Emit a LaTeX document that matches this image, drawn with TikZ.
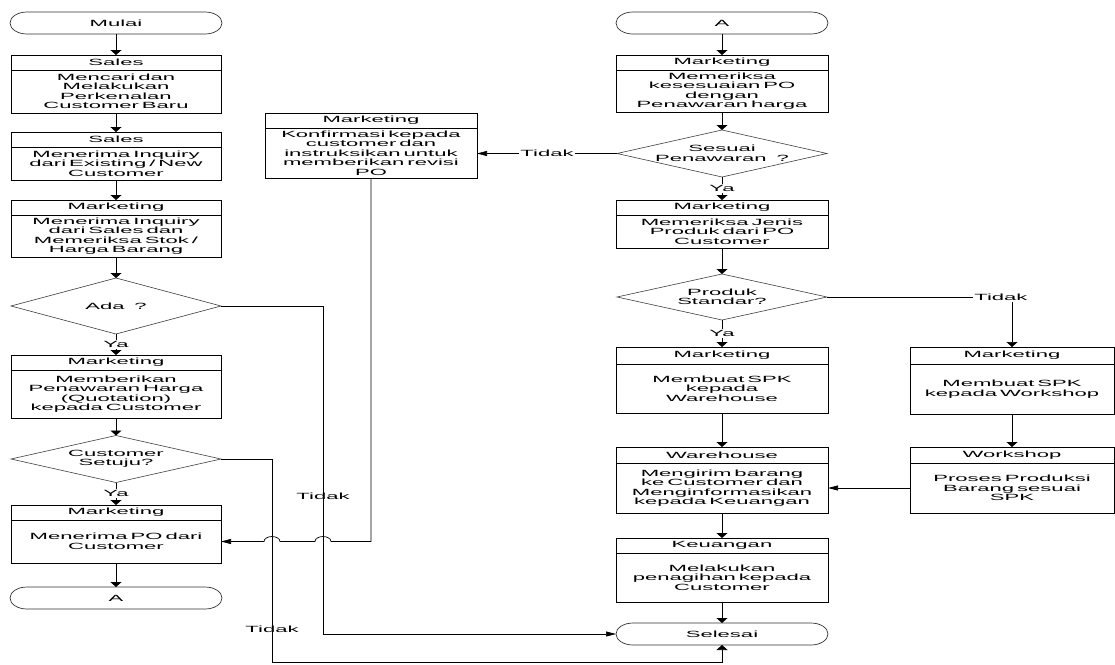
\documentclass[tikz,border=0pt]{standalone}
\usepackage{fontspec}
\setmainfont{Liberation Sans}[FakeStretch=2.45, WordSpace=1.6]
\usetikzlibrary{shapes.geometric, arrows.meta, positioning, calc}

\begin{document}
\begin{tikzpicture}[
    x=1pt, y=1pt,
    font=\fontsize{9}{9.5}\selectfont,
    node distance=0pt,
    hdr/.style={rectangle, draw, line width=0.8pt, minimum width=#1,
                minimum height=15pt, inner sep=0pt, outer sep=0pt},
    body/.style={rectangle, draw, line width=0.8pt, minimum width=#1,
                 text width=204pt, align=center, inner sep=0pt, outer sep=0pt},
    term/.style={rectangle, fill=white, minimum width=214pt, minimum height=24pt,
                 inner sep=0pt, outer sep=-1pt,
                 path picture={
                   \draw[line width=0.7pt, black!80]
                     ([xshift=18pt,yshift=-1pt]path picture bounding box.north west)
                     -- ([xshift=-18pt,yshift=-1pt]path picture bounding box.north east)
                     arc[start angle=90, end angle=-90, x radius=17pt, y radius=11pt]
                     -- ([xshift=18pt,yshift=1pt]path picture bounding box.south west)
                     arc[start angle=270, end angle=90, x radius=17pt, y radius=11pt]
                     -- cycle;}},
    decision/.style={diamond, draw=black!75, line width=0.6pt, minimum width=210pt,
                     minimum height=#1, inner sep=0pt, outer sep=0pt},
    dtext/.style={align=center, inner sep=0pt},
    arr/.style={-{Triangle[length=5pt,width=11pt]}, line width=0.9pt},
    harr/.style={-{Triangle[length=10pt,width=5pt]}, line width=0.7pt},
    lbl/.style={fill=white, inner sep=1.5pt}
]
\path[use as bounding box, fill=white] (0,0) rectangle (1115,-664);

% left column
\node[term] (mulai) at (116,-23) {Mulai};
\node[hdr=210pt] (s1h) at (116,-62.5) {Sales};
\node[body=210pt, minimum height=43pt, below=of s1h]
    (s1) {Mencari dan\\Melakukan\\Perkenalan\\Customer Baru};
\node[hdr=210pt] (s2h) at (116,-139.5) {Sales};
\node[body=210pt, minimum height=33pt, below=of s2h]
    (s2) {Menerima Inquiry\\dari Existing / New\\Customer};
\node[hdr=210pt] (m3h) at (116,-207.5) {Marketing};
\node[body=210pt, minimum height=42pt, below=of m3h]
    (m3) {Menerima Inquiry\\dari Sales dan\\Memeriksa Stok /\\Harga Barang};
\node[decision=56pt, label={[dtext]center:Ada ?}] (ada) at (116,-306) {};
\node[hdr=210pt] (m4h) at (116,-362.5) {Marketing};
\node[body=210pt, minimum height=48pt, below=of m4h]
    (m4) {Memberikan\\Penawaran Harga\\(Quotation)\\kepada Customer};
\node[decision=47pt, label={[dtext]center:Customer\\Setuju?}] (setuju) at (116,-459) {};
\node[hdr=210pt] (m5h) at (116,-512.5) {Marketing};
\node[body=210pt, minimum height=43pt, below=of m5h]
    (m5) {Menerima PO dari\\Customer};
\node[term] (aL) at (116,-598) {A};

% revisi PO
\node[hdr=212pt] (konfh) at (371,-120.5) {Marketing};
\node[body=212pt, minimum height=50pt, below=of konfh]
    (konf) {Konfirmasi kepada\\customer dan\\instruksikan untuk\\memberikan revisi\\PO};

% right column
\node[term] (aR) at (722,-23) {A};
\node[hdr=212pt] (r1h) at (722,-62.5) {Marketing};
\node[body=212pt, minimum height=42pt, below=of r1h]
    (r1) {Memeriksa\\kesesuaian PO\\dengan\\Penawaran harga};
\node[decision=47pt, label={[dtext]center:Sesuai\\Penawaran ?}] (sesuai) at (722,-153.5) {};
\node[hdr=212pt] (r2h) at (722,-207.5) {Marketing};
\node[body=212pt, minimum height=33pt, below=of r2h]
    (r2) {Memeriksa Jenis\\Produk dari PO\\Customer};
\node[decision=46pt, label={[dtext]center:Produk\\Standar?}] (produk) at (722,-297) {};
\node[hdr=212pt, minimum height=17pt] (r3h) at (722,-355.5) {Marketing};
\node[body=212pt, minimum height=49pt, below=of r3h]
    (r3) {Membuat SPK\\kepada\\Warehouse};
\node[hdr=212pt, minimum height=16pt] (whh) at (722,-455) {Warehouse};
\node[body=212pt, minimum height=50pt, below=of whh]
    (wh) {Mengirim barang\\ke Customer dan\\Menginformasikan\\kepada Keuangan};
\node[hdr=212pt] (keuh) at (722,-545.5) {Keuangan};
\node[body=212pt, minimum height=49pt, below=of keuh]
    (keu) {Melakukan\\penagihan kepada\\Customer};
\node[term] (selesai) at (722,-634) {Selesai};

% workshop column
\node[hdr=204pt, minimum height=17pt] (w1h) at (1012,-355.5) {Marketing};
\node[body=204pt, minimum height=50pt, below=of w1h]
    (w1) {Membuat SPK\\kepada Workshop};
\node[hdr=204pt, minimum height=16pt] (wsh) at (1012,-455) {Workshop};
\node[body=204pt, minimum height=50pt, below=of wsh]
    (ws) {Proses Produksi\\Barang sesuai\\SPK};

\coordinate (adaB) at (323,-634);
\coordinate (setB) at (272,-662);

\draw[arr] (mulai.south) -- (s1h.north);
\draw[arr] (s1.south) -- (s2h.north);
\draw[arr] (s2.south) -- (m3h.north);
\draw[arr] (m3.south) -- (ada.north);
\draw[arr] (ada.south) -- node[lbl]{Ya} (m4h.north);
\draw[arr] (m4.south) -- (setuju.north);
\draw[arr] (setuju.south) -- node[lbl]{Ya} (m5h.north);
\draw[arr] (m5.south) -- (aL.north);
\draw[harr] (ada.east) -| node[pos=0.79]{Tidak} (adaB) -- (selesai.west);
\draw[arr, line width=0.7pt] (setuju.east) -| node[pos=0.92]{Tidak} (setB) -| (selesai.south);
\draw[harr] (konf.south) |- ($(adaB |- m5.east)+(8,0)$)
    arc[start angle=0, end angle=180, x radius=8pt, y radius=5pt]
    -- ($(setB |- m5.east)+(8,0)$)
    arc[start angle=0, end angle=180, x radius=8pt, y radius=5pt]
    -- (m5.east);

\draw[arr] (aR.south) -- (r1h.north);
\draw[arr] (r1.south) -- (sesuai.north);
\draw[arr] (sesuai.south) -- node[lbl]{Ya} (r2h.north);
\draw[harr] (sesuai.west) -- node[lbl]{Tidak} (sesuai.west -| konf.east);
\draw[arr] (r2.south) -- (produk.north);
\draw[arr] (produk.south) -- node[lbl]{Ya} (r3h.north);
\draw[arr, line width=0.7pt] (produk.east) -| node[lbl, pos=0.47]{Tidak} (w1h.north);
\draw[arr] (r3.south) -- (whh.north);
\draw[arr] (w1.south) -- (wsh.north);
\draw[harr] (ws.west) -- (wh.east);
\draw[arr] (wh.south) -- (keuh.north);
\draw[arr] (keu.south) -- (selesai.north);
\end{tikzpicture}
\end{document}
